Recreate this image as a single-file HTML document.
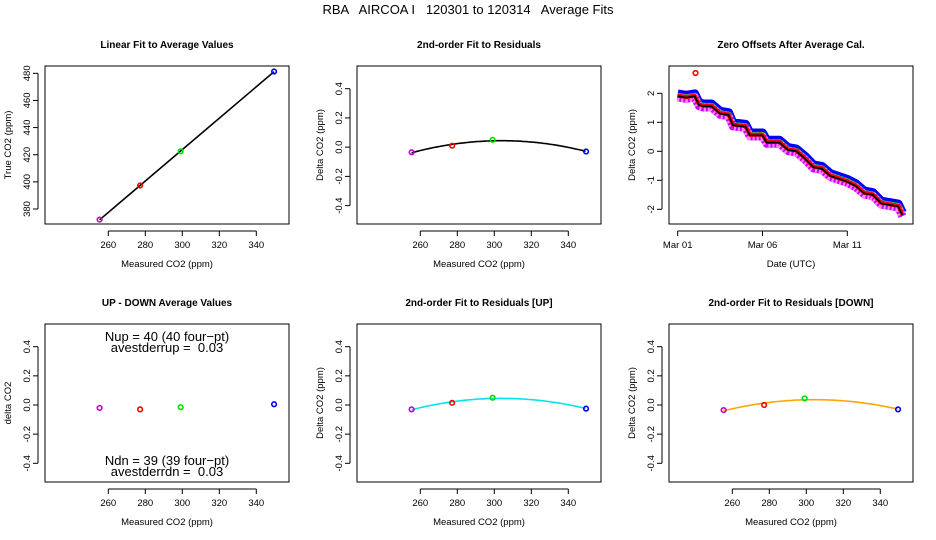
<!DOCTYPE html>
<html><head><meta charset="utf-8"><style>
body{margin:0;background:#fff}
svg{display:block;font-family:"Liberation Sans",sans-serif}
</style></head><body>
<svg id="c" width="936" height="540"></svg>
<script>
const NS='http://www.w3.org/2000/svg';
const svg=document.getElementById('c');
// ---- data ----
const measured=[255.3,277.2,299.1,349.6];
const trueCO2=[372.2,397.3,422.5,481.3];
const pointColors=['#cc00cc','#ff0000','#00dd00','#0000ff'];
const residuals=[-0.035,0.01,0.05,-0.03];
const residualsUp=[-0.03,0.015,0.05,-0.025];
const residualsDown=[-0.035,0.0,0.045,-0.03];
const upDown=[-0.02,-0.03,-0.015,0.005];
const xTicks=[260,280,300,320,340];
const yTicks1=[380,400,420,440,460,480];
const yTicksRes=[-0.4,-0.2,0.0,0.2,0.4];
const yTicksRes1=['-0.4','-0.2','0.0','0.2','0.4'];
const days=[0,0.5,1,1.25,1.5,2,2.5,3,3.25,4,4.25,5,5.25,6,6.5,7,7.5,8,8.5,9,9.5,10,10.5,11,11.5,12,12.5,13,13.25];
const zeroOffsets=[1.9,1.85,1.9,1.6,1.55,1.55,1.3,1.25,0.9,0.85,0.55,0.55,0.3,0.3,0.05,0.0,-0.25,-0.55,-0.6,-0.85,-0.95,-1.05,-1.2,-1.45,-1.5,-1.8,-1.85,-1.9,-2.2];
const dateTicks=[0,5,10];
const dateLabels=['Mar 01','Mar 06','Mar 11'];
const yTicks3=[-2,-1,0,1,2];

function el(tag,attrs,parent,name,inter){const e=document.createElementNS(NS,tag);for(const k in attrs)e.setAttribute(k,attrs[k]);


(parent||svg).appendChild(e);return e;}
function txt(x,y,s,opts,parent,name){const t=el('text',Object.assign({x:x,y:y,'font-size':10,'text-anchor':'middle',fill:'#000'},opts||{}),parent,name);t.textContent=s;return t;}
function lin(d0,d1,r0,r1){return v=>r0+(v-d0)*(r1-r0)/(d1-d0);}

txt(468,14,'RBA   AIRCOA I   120301 to 120314   Average Fits',{'font-size':13,'xml:space':'preserve',style:'white-space:pre'},svg,'main-title');

function panel(ox,oy,title,xlab,ylab,name){
  const g=el('g',{},svg,name);
  const L=45+ox,R=289+ox,T=66+oy,B=224+oy;
  el('rect',{x:L,y:T,width:R-L,height:B-T,fill:'none',stroke:'#000','stroke-width':1},g,'plot-box');
  txt((L+R)/2,T-18,title,{'font-weight':'bold'},g,'panel-title');
  txt((L+R)/2,B+43,xlab,{'font-size':9.5},g,'x-axis-title');
  txt(0,0,ylab,{'font-size':9.5,transform:`translate(${L-34},${(T+B)/2}) rotate(-90)`},g,'y-axis-title');
  return {g,L,R,T,B};
}
function xAxis(p,sx,ticks,labels){
  el('line',{x1:sx(ticks[0]),x2:sx(ticks[ticks.length-1]),y1:p.B+7,y2:p.B+7,stroke:'#000'},p.g,'x-axis-line');
  ticks.forEach((t,i)=>{el('line',{x1:sx(t),x2:sx(t),y1:p.B+7,y2:p.B+12,stroke:'#000'},p.g,'x-tick');
    txt(sx(t),p.B+24,labels?labels[i]:String(t),{'font-size':9.5},p.g,'x-tick-label');});
}
function yAxis(p,sy,ticks,labels){
  el('line',{x1:p.L-7,x2:p.L-7,y1:sy(ticks[0]),y2:sy(ticks[ticks.length-1]),stroke:'#000'},p.g,'y-axis-line');
  ticks.forEach((t,i)=>{el('line',{x1:p.L-12,x2:p.L-7,y1:sy(t),y2:sy(t),stroke:'#000'},p.g,'y-tick');
    txt(0,0,labels?labels[i]:String(t),{'font-size':9.5,transform:`translate(${p.L-15},${sy(t)}) rotate(-90)`},p.g,'y-tick-label');});
}
function pts(p,sx,sy,xs,ys,name){xs.forEach((x,i)=>el('circle',{cx:sx(x),cy:sy(ys[i]),r:2.3,fill:'none',stroke:pointColors[i],'stroke-width':1.6},p.g,name||'data-point'));}
function quadFit(xs,ys){
  let S=[0,0,0,0,0],T=[0,0,0];xs.forEach((x,i)=>{for(let k=0;k<5;k++)S[k]+=Math.pow(x-300,k);for(let k=0;k<3;k++)T[k]+=ys[i]*Math.pow(x-300,k);});
  const A=[[S[0],S[1],S[2],T[0]],[S[1],S[2],S[3],T[1]],[S[2],S[3],S[4],T[2]]];
  for(let i=0;i<3;i++){for(let j=i+1;j<3;j++){const f=A[j][i]/A[i][i];for(let k=i;k<4;k++)A[j][k]-=f*A[i][k];}}
  const c=[0,0,0];for(let i=2;i>=0;i--){let s=A[i][3];for(let k=i+1;k<3;k++)s-=A[i][k]*c[k];c[i]=s/A[i][i];}
  return x=>c[0]+c[1]*(x-300)+c[2]*(x-300)*(x-300);
}
function curve(p,sx,sy,f,color,name){let d='';for(let x=measured[0];x<=measured[3]+0.01;x+=1)d+=(d?'L':'M')+sx(x).toFixed(1)+','+sy(f(x)).toFixed(1);
  el('path',{d:d,fill:'none',stroke:color,'stroke-width':1.6},p.g,name);}

// Panel 1
let p=panel(0,0,'Linear Fit to Average Values','Measured CO2 (ppm)','True CO2 (ppm)','panel-linear-fit');
let sx=lin(260,340,108.3,256.3),sy=lin(380,480,209,73.3);
xAxis(p,sx,xTicks);yAxis(p,sy,yTicks1);
{const n=4;let mx=0,my=0;measured.forEach((x,i)=>{mx+=x/n;my+=trueCO2[i]/n});let sxy=0,sxx=0;measured.forEach((x,i)=>{sxy+=(x-mx)*(trueCO2[i]-my);sxx+=(x-mx)**2});const b=sxy/sxx,a=my-b*mx;
 el('line',{x1:sx(measured[0]),y1:sy(a+b*measured[0]),x2:sx(measured[3]),y2:sy(a+b*measured[3]),stroke:'#000','stroke-width':1.6},p.g,'fit-line');}
pts(p,sx,sy,measured,trueCO2);

// Panel 2
const sxr=o=>lin(260,340,108.3+o,256.3+o);
p=panel(312,0,'2nd-order Fit to Residuals','Measured CO2 (ppm)','Delta CO2 (ppm)','panel-residual-fit');
sx=sxr(312);sy=lin(-0.4,0.4,205.6,88.7);
xAxis(p,sx,xTicks);yAxis(p,sy,yTicksRes,yTicksRes1);
curve(p,sx,sy,quadFit(measured,residuals),'#000','fit-curve');pts(p,sx,sy,measured,residuals);

// Panel 3
p=panel(624,0,'Zero Offsets After Average Cal.','Date (UTC)','Delta CO2 (ppm)','panel-zero-offsets');
sx=lin(0,10,677.7,847.3);sy=lin(-2,2,209.3,93.3);
xAxis(p,sx,dateTicks,dateLabels);yAxis(p,sy,yTicks3);
function series(off,color,w,name,dash){const d=days.map((t,i)=>(i?'L':'M')+sx(t).toFixed(1)+','+sy(zeroOffsets[i]+off).toFixed(1)).join('');
  const o={d:d,fill:'none',stroke:color,'stroke-width':w,'stroke-linejoin':'round'};if(dash)o['stroke-dasharray']=dash;el('path',o,p.g,name);}
series(0.08,'#0000ff',9,'series-blue');
series(-0.02,'#00dd00',8,'series-green');
series(-0.04,'#cc00ff',8,'series-magenta');
series(-0.04,'#ff88ff',8,'series-magenta-pattern','2 2');
series(0.02,'#ff0000',4,'series-red');
series(0,'#000',1.8,'series-average');
el('circle',{cx:sx(1.05),cy:sy(2.7),r:2.3,fill:'none',stroke:'#f00','stroke-width':1.6},p.g,'outlier-point');

// Panel 4
p=panel(0,258,'UP - DOWN Average Values','Measured CO2 (ppm)','delta CO2','panel-up-down');
sx=sxr(0);sy=lin(-0.4,0.4,463.3,346.7);
xAxis(p,sx,xTicks);yAxis(p,sy,yTicksRes,yTicksRes1);
pts(p,sx,sy,measured,upDown);
txt(167,341,'Nup = 40 (40 four\u2212pt)',{'font-size':13},p.g,'nup-annotation');
txt(167,352,'avestderrup =  0.03',{'font-size':13,style:'white-space:pre'},p.g,'avestderrup-annotation');
txt(167,465,'Ndn = 39 (39 four\u2212pt)',{'font-size':13},p.g,'ndn-annotation');
txt(167,476,'avestderrdn =  0.03',{'font-size':13,style:'white-space:pre'},p.g,'avestderrdn-annotation');

// Panel 5
p=panel(312,258,'2nd-order Fit to Residuals [UP]','Measured CO2 (ppm)','Delta CO2 (ppm)','panel-residual-up');
sx=sxr(312);
xAxis(p,sx,xTicks);yAxis(p,sy,yTicksRes,yTicksRes1);
curve(p,sx,sy,quadFit(measured,residualsUp),'#00e5ee','fit-curve-up');pts(p,sx,sy,measured,residualsUp);

// Panel 6
p=panel(624,258,'2nd-order Fit to Residuals [DOWN]','Measured CO2 (ppm)','Delta CO2 (ppm)','panel-residual-down');
sx=sxr(624);
xAxis(p,sx,xTicks);yAxis(p,sy,yTicksRes,yTicksRes1);
curve(p,sx,sy,quadFit(measured,residualsDown),'#ffa500','fit-curve-down');pts(p,sx,sy,measured,residualsDown);
</script>
</body></html>
